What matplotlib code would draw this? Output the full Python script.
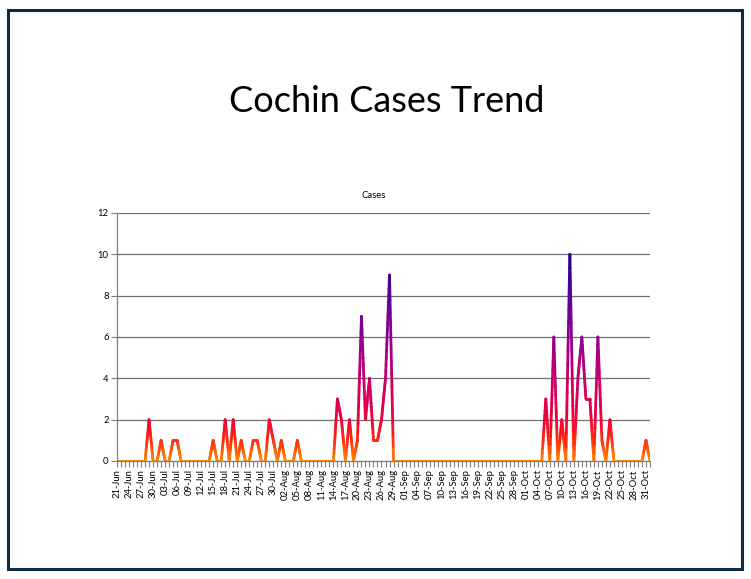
import numpy as np
import pandas as pd
import matplotlib
matplotlib.use('Agg')
import matplotlib.pyplot as plt
from matplotlib.collections import LineCollection
from matplotlib.colors import LinearSegmentedColormap
from matplotlib.patches import Rectangle

# Daily cases, 21 Jun to 01 Nov
dates = pd.date_range('2009-06-21', periods=134, freq='D')
cases = [
    0, 0, 0, 0, 0, 0, 0, 0, 2, 0, 0, 1, 0, 0, 1, 1, 0, 0, 0, 0,   # 21 Jun - 10 Jul
    0, 0, 0, 0, 1, 0, 0, 2, 0, 2, 0, 1, 0, 0, 1, 1, 0, 0, 2, 1,   # 11 Jul - 30 Jul
    0, 1, 0, 0, 0, 1, 0, 0, 0, 0, 0, 0, 0, 0, 0, 3, 2, 0, 2, 0,   # 31 Jul - 19 Aug
    1, 7, 2, 4, 1, 1, 2, 4, 9, 0, 0, 0, 0, 0, 0, 0, 0, 0, 0, 0,   # 20 Aug - 08 Sep
    0, 0, 0, 0, 0, 0, 0, 0, 0, 0, 0, 0, 0, 0, 0, 0, 0, 0, 0, 0,   # 09 Sep - 28 Sep
    0, 0, 0, 0, 0, 0, 0, 3, 0, 6, 0, 2, 0, 10, 0, 4, 6, 3, 3, 0,  # 29 Sep - 18 Oct
    6, 1, 0, 2, 0, 0, 0, 0, 0, 0, 0, 0, 1, 0,                     # 19 Oct - 01 Nov
]
tick_labels = [d.strftime('%d-%b') if i % 3 == 0 else '' for i, d in enumerate(dates)]
y_ticks = [0, 2, 4, 6, 8, 10, 12]

x = np.arange(len(cases))
y = np.array(cases, dtype=float)

fig = plt.figure(figsize=(7.51, 5.79), dpi=100)
ax = fig.add_axes([117 / 751, 118 / 579, 533 / 751, 248 / 579])

# line coloured by value (orange -> red -> purple -> indigo)
cmap = LinearSegmentedColormap.from_list('cases', [
    (0.0, '#ff8a00'), (0.1, '#ff2a10'), (0.2, '#f0003a'),
    (0.4, '#c8006c'), (0.6, '#90008f'), (0.8, '#5c00a0'), (1.0, '#1e0080')])
segs, vals = [], []
for i in range(len(x) - 1):
    t = np.linspace(0, 1, 16)
    sx = x[i] + t * (x[i + 1] - x[i])
    sy = y[i] + t * (y[i + 1] - y[i])
    for k in range(len(t) - 1):
        segs.append([(sx[k], sy[k]), (sx[k + 1], sy[k + 1])])
        vals.append((sy[k] + sy[k + 1]) / 2)
lc = LineCollection(segs, cmap=cmap, norm=plt.Normalize(0, 10),
                    linewidth=2.0, capstyle='round', joinstyle='round')
lc.set_array(np.array(vals))
ax.add_collection(lc)

ax.set_xlim(0, len(cases) - 1)
ax.set_ylim(0, 12)
ax.set_yticks(y_ticks)
ax.set_yticklabels([str(v) for v in y_ticks], fontsize=6.8, family='Lato')
ax.set_xticks(x)
ax.set_xticklabels(tick_labels, rotation=90, fontsize=6.8, family='Lato')
ax.tick_params(axis='both', direction='out', length=4, width=0.8,
               color='#808080', pad=2)
ax.grid(axis='y', color='#707070', linewidth=0.9)
ax.set_axisbelow(True)
for side in ['top', 'right']:
    ax.spines[side].set_visible(False)
for side in ['left', 'bottom']:
    ax.spines[side].set_color('#808080')
    ax.spines[side].set_linewidth(0.9)

fig.text(387 / 751, 1 - 101 / 579, 'Cochin Cases Trend', ha='center', va='center',
         fontsize=26, family='Lato')
fig.text(374 / 751, 1 - 195 / 579, 'Cases', ha='center', va='center',
         fontsize=6.8, family='Lato')

fig.patches.append(Rectangle((8 / 751, 10 / 579), 734 / 751, 559 / 579,
                             transform=fig.transFigure, fill=False,
                             edgecolor='#0c2c42', linewidth=2.2))

fig.savefig('out.png', dpi=100)
